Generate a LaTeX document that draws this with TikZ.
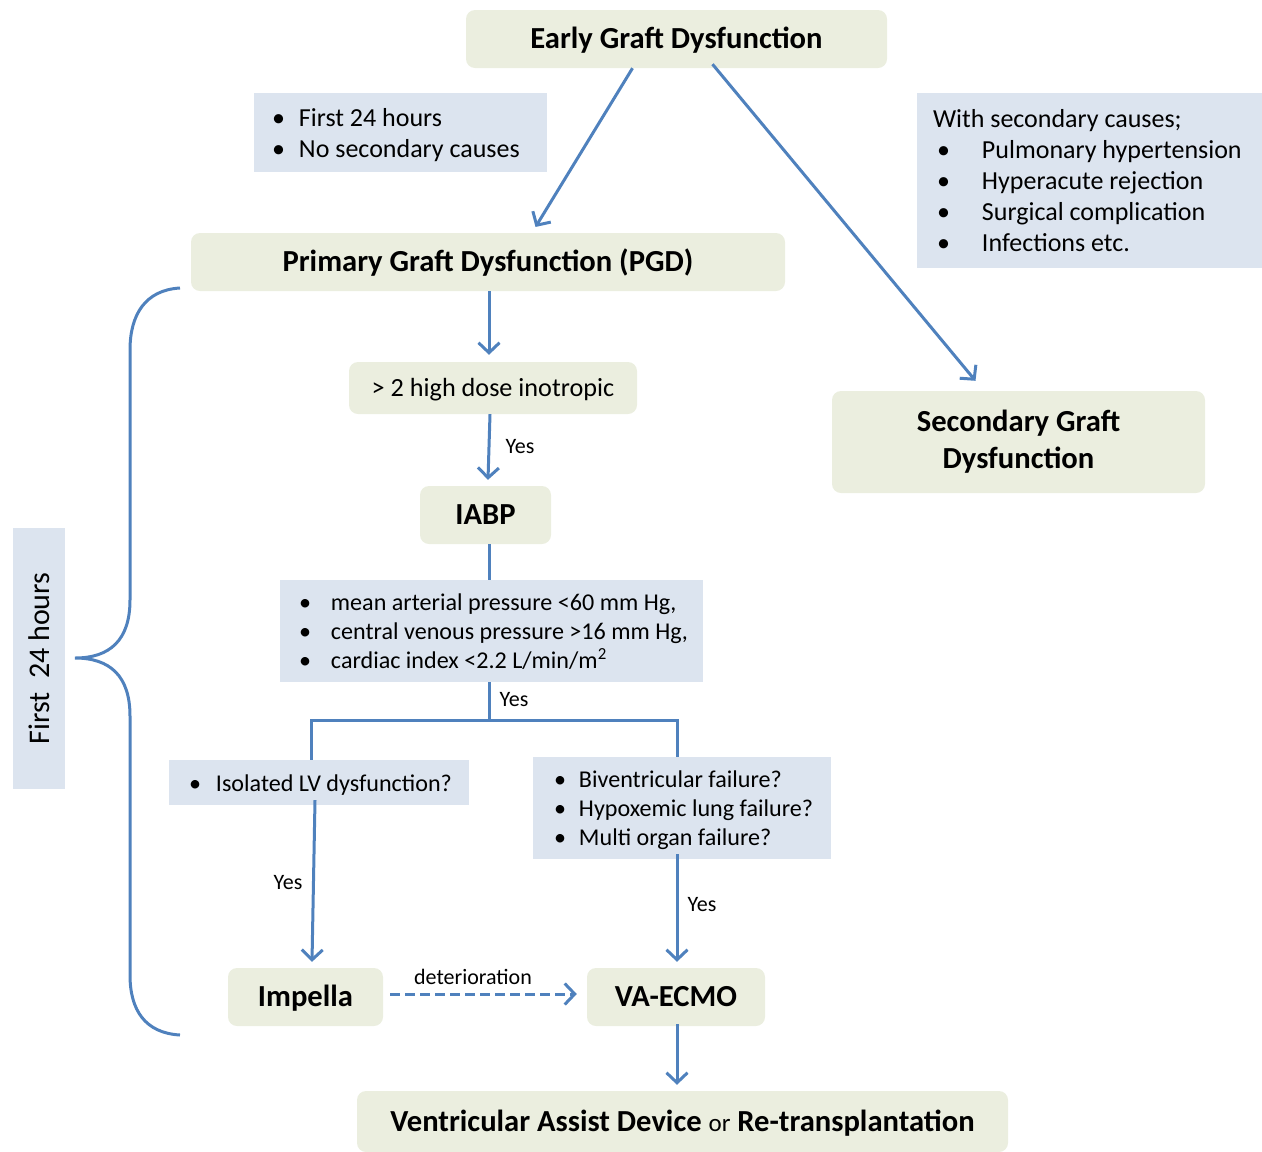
\documentclass[tikz,border=0pt]{standalone}
\usepackage{fontspec}
\setmainfont{Carlito}
\usetikzlibrary{arrows.meta,calc}
\definecolor{gboxc}{RGB}{235,238,223}
\definecolor{bboxc}{RGB}{220,228,239}
\definecolor{arrc}{RGB}{79,129,189}
\newcommand\bul[1]{\makebox[#1][l]{•}}
\newcommand\lst[2]{\makebox[#1][l]{\raisebox{-3pt}[\height][\depth]{\begin{tabular}{@{}l@{}}#2\end{tabular}}}}
\tikzset{
  gnode/.style={fill=gboxc, rounded corners=9pt, inner sep=0pt, align=center,
    font=\fontsize{30.6}{37}\selectfont\bfseries},
  oneline/.style={text height=19.7pt, text depth=0pt},
  bnode/.style={fill=bboxc, inner ysep=0pt},
  big/.style={font=\fontsize{26}{31}\selectfont},
  small/.style={font=\fontsize{24.1}{29}\selectfont},
  conn/.style={draw=arrc, line width=3pt},
  arr/.style={conn, -{Straight Barb[length=10pt,width=21pt]}},
  lbl/.style={inner sep=0pt, font=\fontsize{22}{26}\selectfont},
}
\begin{document}
\begin{tikzpicture}[x=1pt,y=-1pt]
\useasboundingbox (0,0) rectangle (1262,1152);
\clip (0,0) rectangle (1262,1152);

% green boxes
\node[gnode, oneline, minimum width=421pt, minimum height=58pt] (egd) at (676.5,39) {Early Graft Dysfunction};
\node[gnode, oneline, minimum width=594pt, minimum height=58pt] (pgd) at (488,262) {Primary Graft Dysfunction (PGD)};
\node[gnode, minimum width=373pt, minimum height=102pt] (sgd) at (1018.5,442) {Secondary Graft\\Dysfunction};
\node[gnode, text height=16.9pt, text depth=0pt, minimum width=288pt, minimum height=52pt, font=\fontsize{26.2}{31}\selectfont] (ino) at (493,388) {> 2 high dose inotropic};
\node[gnode, oneline, minimum width=131pt, minimum height=58pt] (iabp) at (485.5,515) {IABP};
\node[gnode, oneline, minimum width=155pt, minimum height=58pt] (imp) at (305.5,997) {Impella};
\node[gnode, oneline, minimum width=178pt, minimum height=58pt] (ecmo) at (676,997) {VA-ECMO};
\node[gnode, oneline, minimum width=651pt, minimum height=61pt] (vad) at (682.5,1121.5)
  {Ventricular Assist Device {\fontsize{25}{30}\selectfont\mdseries or} Re-transplantation};

% blue boxes
\node[bnode, big, inner xsep=18pt, minimum height=79pt] (nosec) at (400.5,132.5)
  {\lst{257pt}{\bul{27pt}First 24 hours\\\bul{27pt}No secondary causes}};
\node[bnode, big, inner xsep=16pt, minimum height=175pt] (withsec) at (1089.5,180.5)
  {\lst{313pt}{With secondary causes;\\
   \hspace*{4pt}\bul{45pt}Pulmonary hypertension\\
   \hspace*{4pt}\bul{45pt}Hyperacute rejection\\
   \hspace*{4pt}\bul{45pt}Surgical complication\\
   \hspace*{4pt}\bul{45pt}Infections etc.}};
\node[bnode, small, inner xsep=19pt, minimum height=102pt] (crit) at (491.5,631)
  {\lst{385pt}{\bul{32pt}mean arterial pressure <60 mm Hg,\\
   \bul{32pt}central venous pressure >16 mm Hg,\\
   \bul{32pt}cardiac index <2.2 L/min/m\textsuperscript{2}}};
\node[bnode, small, inner xsep=20pt, minimum height=45pt] (lv) at (319,782.5)
  {\lst{260pt}{\bul{27pt}Isolated LV dysfunction?}};
\node[bnode, small, inner xsep=21pt, minimum height=102pt] (bi) at (682,808)
  {\lst{256pt}{\bul{25pt}Biventricular failure?\\
   \bul{25pt}Hypoxemic lung failure?\\
   \bul{25pt}Multi organ failure?}};
\node[fill=bboxc, inner sep=0pt, minimum width=261pt, minimum height=52pt, rotate=90,
  font=\fontsize{30}{36}\selectfont] (first) at (39,658.5) {First\ \ 24 hours};

% connectors
\draw[arr, shorten >=1pt] ([xshift=-44pt]egd.south) -- ([xshift=47pt,yshift=5pt]pgd.north);
\draw[arr] ([xshift=36pt,yshift=4pt]egd.south) -- ([xshift=-43pt,yshift=10pt]sgd.north);
\draw[arr] ([xshift=1pt]pgd.south) -- ([xshift=-4pt,yshift=7pt]ino.north);
\draw[arr] ([xshift=-3pt]ino.south) -- ([xshift=2.5pt,yshift=6pt]iabp.north);
\draw[conn] ([xshift=3.5pt]iabp.south) -- ([xshift=-2.5pt]crit.north);
\coordinate (split) at ($([xshift=-2.5pt]crit.south)+(0,38)$);
\draw[conn] ([xshift=-2.5pt]crit.south) -- (split);
\draw[conn] ([xshift=-8pt]lv.north) |- (split) -| ([xshift=-5pt]bi.north);
\draw[arr] ([xshift=-4pt,yshift=5pt]lv.south) -- ([xshift=6.5pt,yshift=6pt]imp.north);
\draw[arr] ([xshift=-5pt,yshift=5pt]bi.south) -- ([xshift=1pt,yshift=6pt]ecmo.north);
\draw[arr, dashed, dash pattern=on 10pt off 5pt] ([xshift=7pt,yshift=3pt]imp.east) -- ([xshift=-10pt,yshift=3pt]ecmo.west);
\draw[arr] ([xshift=1pt,yshift=2pt]ecmo.south) -- ([xshift=-5.5pt,yshift=6pt]vad.north);

% brace
\draw[conn] (180,288) .. controls (145,290) and (130,315) .. (130,350)
  -- (130,600) .. controls (130,640) and (110,658) .. (75,658)
  .. controls (110,658) and (130,676) .. (130,716)
  -- (130,975) .. controls (130,1010) and (145,1033) .. (180,1035);

% labels
\node[lbl] (yes1) at (520,447) {Yes};
\node[lbl] (yes2) at (514,700) {Yes};
\node[lbl] (yes3) at (288,883) {Yes};
\node[lbl] (yes4) at (702,905) {Yes};
\node[lbl] (det) at (473,977) {deterioration};
\end{tikzpicture}
\end{document}
